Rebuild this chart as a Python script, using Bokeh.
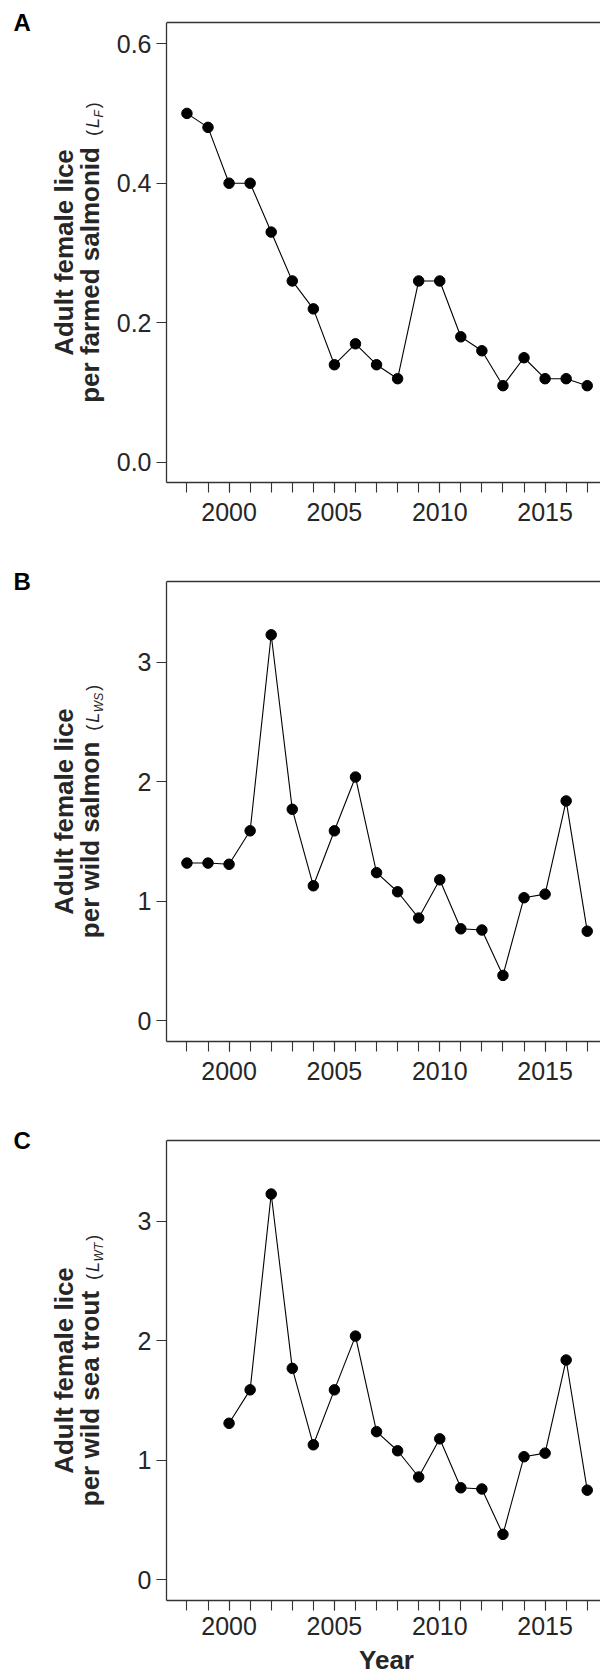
import math
from bokeh.plotting import figure
from bokeh.models import (Range1d, FixedTicker, Label, Span, PrintfTickFormatter,
                          BasicTickFormatter)
from bokeh.layouts import column, row
from bokeh.embed import file_html
from bokeh.resources import INLINE

# ---------------- data ----------------
years = list(range(1998, 2018))
lice_farmed = [0.50, 0.48, 0.40, 0.40, 0.33, 0.26, 0.22, 0.14, 0.17, 0.14,
               0.12, 0.26, 0.26, 0.18, 0.16, 0.11, 0.15, 0.12, 0.12, 0.11]
lice_wild_salmon = [1.32, 1.32, 1.31, 1.59, 3.23, 1.77, 1.13, 1.59, 2.04, 1.24,
                    1.08, 0.86, 1.18, 0.77, 0.76, 0.38, 1.03, 1.06, 1.84, 0.75]
years_trout = list(range(2000, 2018))
lice_sea_trout = [1.31, 1.59, 3.23, 1.77, 1.13, 1.59, 2.04, 1.24,
                  1.08, 0.86, 1.18, 0.77, 0.76, 0.38, 1.03, 1.06, 1.84, 0.75]

x_major_ticks = [2000, 2005, 2010, 2015]
y_ticks_a = [0.0, 0.2, 0.4, 0.6]
y_ticks_bc = [0, 1, 2, 3]
panel_letters = ["A", "B", "C"]
label_line1 = "Adult female lice"
label_line2 = ["per farmed salmonid", "per wild salmon", "per wild sea trout"]
label_sub = ["F", "WS", "WT"]
x_title = "Year"

# ---------------- style / layout ----------------
FONT = "Liberation Sans"
TXT = "#262626"
LINE = "#333333"
LAB_W = 108          # strip holding the y titles (page x 0..108)
MAIN_W = 492
LEFT = 58            # frame left at 166
BOX_H = 460          # height of the drawn box
X0, X1 = 1997.03, 2017.63

BOLD_W = {' ': .278, 'a': .556, 'b': .611, 'c': .556, 'd': .611, 'e': .556, 'f': .333,
          'g': .611, 'h': .611, 'i': .278, 'l': .278, 'm': .889, 'n': .611, 'o': .611,
          'p': .611, 'r': .389, 's': .556, 't': .333, 'u': .611, 'w': .778, 'A': .722}
ITAL_W = {'L': .556, 'F': .611, 'W': .944, 'S': .667, 'T': .611}


def text_w(s, table, size):
    return sum(table.get(c, 0.55) for c in s) * size


def blank_fig(w, h, bottom=0):
    f = figure(width=w, height=h, output_backend="svg", toolbar_location=None,
               x_range=Range1d(0, w), y_range=Range1d(0, h - bottom),
               x_axis_type=None, y_axis_type=None, min_border=0,
               min_border_bottom=bottom,
               outline_line_color=None, background_fill_color="white",
               border_fill_color="white")
    f.xgrid.visible = False
    f.ygrid.visible = False
    return f


def label_fig(i, height, bottom):
    # data units == pixels; y measured upward from the frame bottom
    f = blank_fig(LAB_W, height, bottom)
    rot = math.pi / 2
    yc = BOX_H / 2
    f.add_layout(Label(x=63.5, y=yc, text=label_line1, angle=rot,
                       text_font=FONT, text_font_style="bold", text_font_size="26px",
                       text_color=TXT, text_align="center", text_baseline="middle"))
    fs_main, fs_small, fs_sub = 26, 18, 12
    main = label_line2[i]
    sub = label_sub[i]
    w_main = text_w(main, BOLD_W, fs_main)
    w_par = 0.333 * fs_small
    w_L = ITAL_W['L'] * fs_small
    w_sub = text_w(sub, ITAL_W, fs_sub)
    g1, g2, g3, g4 = 11, 2, 0.5, 2
    o_p1 = w_main + g1
    o_L = o_p1 + w_par + g2
    o_sub = o_L + w_L + g3
    o_p2 = o_sub + w_sub + g4
    total = o_p2 + w_par
    ystart = yc - total / 2
    pieces = [
        (main, 0, fs_main, "bold", 89.5),
        ("(", o_p1, fs_small, "normal", 92.2),
        ("L", o_L, fs_small, "italic", 92.2),
        (sub, o_sub, fs_sub, "italic", 98.3),
        (")", o_p2, fs_small, "normal", 92.2),
    ]
    for txt, off, fs, style, cx in pieces:
        f.add_layout(Label(x=cx, y=ystart + off, text=txt, angle=rot,
                           text_font=FONT, text_font_style=style,
                           text_font_size=f"{fs}px", text_color=TXT,
                           text_align="left", text_baseline="middle"))
    f.add_layout(Label(x=13, y=BOX_H + 0.5, text=panel_letters[i],
                       text_font=FONT, text_font_style="bold", text_font_size="24px",
                       text_color="black", text_align="left", text_baseline="middle"))
    return f


def main_fig(xs, ys, y0, ybox, yticks, fmt, height, bottom, top_px, xstandoff):
    upy = (ybox - y0) / BOX_H
    ytop = ybox + top_px * upy
    p = figure(width=MAIN_W, height=height, output_backend="svg", toolbar_location=None,
               x_range=Range1d(X0, X1), y_range=Range1d(y0, ytop),
               min_border_left=LEFT, min_border_right=0, min_border_top=0,
               min_border_bottom=bottom, outline_line_color=None,
               background_fill_color="white", border_fill_color="white")
    p.xgrid.visible = False
    p.ygrid.visible = False

    xa = p.xaxis[0]
    xa.ticker = FixedTicker(ticks=x_major_ticks, minor_ticks=years)
    xa.formatter = BasicTickFormatter(use_scientific=False)
    ya = p.yaxis[0]
    ya.ticker = FixedTicker(ticks=yticks)
    ya.formatter = fmt
    ya.bounds = (y0, ybox)
    for ax in (xa, ya):
        ax.axis_line_color = LINE
        ax.axis_line_width = 1.3
        ax.major_tick_line_color = LINE
        ax.major_tick_line_width = 1.1
        ax.major_tick_out = 10
        ax.major_tick_in = 0
        ax.major_label_text_font = FONT
        ax.major_label_text_font_size = "25px"
        ax.major_label_text_color = TXT
    xa.minor_tick_line_color = LINE
    xa.minor_tick_line_width = 1.1
    xa.minor_tick_out = 10
    xa.minor_tick_in = 0
    xa.major_label_standoff = xstandoff
    ya.minor_tick_line_color = None
    ya.major_label_standoff = 5

    # top edge of the box
    p.add_layout(Span(location=ybox, dimension="width", line_color=LINE, line_width=1.3))

    p.line(xs, ys, line_color="black", line_width=1.1)
    p.scatter(xs, ys, size=10.5, fill_color="black", line_color="black")
    return p


# panel geometry (page px): A box 22..482, B box 581..1041, C box 1140..1600
TOP_A, TOP_BC = 22, 14
BOT_AB, BOT_C = 85, 44
H_A = TOP_A + BOX_H + BOT_AB        # 567
H_B = TOP_BC + BOX_H + BOT_AB       # 559
H_C = TOP_BC + BOX_H + BOT_C        # 518
STRIP_H = 1674 - H_A - H_B - H_C    # 30

pa = main_fig(years, lice_farmed, -0.0287, 0.6302, y_ticks_a,
              PrintfTickFormatter(format="%.1f"), H_A, BOT_AB, TOP_A, 10)
pb = main_fig(years, lice_wild_salmon, -0.173, 3.676, y_ticks_bc,
              BasicTickFormatter(), H_B, BOT_AB, TOP_BC, 10)
pc = main_fig(years_trout, lice_sea_trout, -0.174, 3.678, y_ticks_bc,
              BasicTickFormatter(), H_C, BOT_C, TOP_BC, 6)

strip = blank_fig(LAB_W + MAIN_W, STRIP_H)
strip.add_layout(Label(x=386, y=STRIP_H / 2, text=x_title, text_font=FONT,
                       text_font_style="bold", text_font_size="26px", text_color=TXT,
                       text_align="center", text_baseline="middle"))

layout = column(
    row(label_fig(0, H_A, BOT_AB), pa, spacing=0),
    row(label_fig(1, H_B, BOT_AB), pb, spacing=0),
    row(label_fig(2, H_C, BOT_C), pc, spacing=0),
    strip,
    spacing=0,
)
open("out.html", "w").write(file_html(layout, INLINE))
